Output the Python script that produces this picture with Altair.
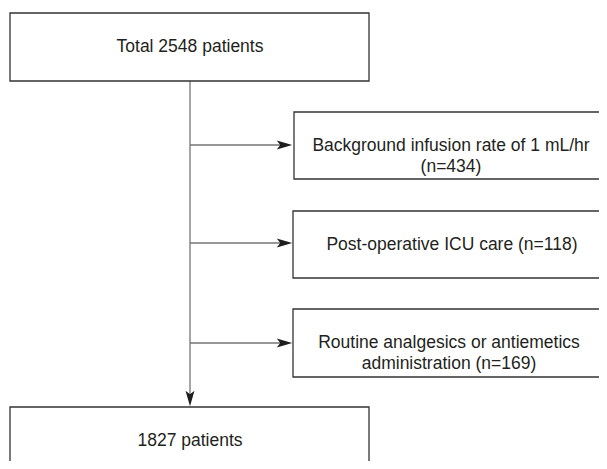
import altair as alt
import pandas as pd

# Box contents and geometry (image pixel coordinates)
box_labels = [
    "Total 2548 patients",
    "Background infusion rate of 1 mL/hr\n(n=434)",
    "Post-operative ICU care (n=118)",
    "Routine analgesics or antiemetics\nadministration (n=169)",
    "1827 patients",
]
box_x1 = [10, 294, 293, 293, 10]
box_x2 = [369, 612, 612, 612, 369]
box_y1 = [13, 112, 211, 309, 407]
box_y2 = [81, 179, 278, 377, 477]
text_x = [190, 451, 452, 449, 190]
text_y = [47, 146, 245, 343, 441]

# Connector lines
line_x1 = [190, 190, 190, 190]
line_x2 = [190, 284, 284, 284]
line_y1 = [81, 145, 243, 343]
line_y2 = [400, 145, 243, 343]

# Arrow heads
arrow_x = [284.5, 284.5, 284.5, 190]
arrow_y = [145, 243, 343, 398.5]
arrow_angle = [0, 0, 0, 90]

boxes = pd.DataFrame({"x1": box_x1, "x2": box_x2, "y1": box_y1, "y2": box_y2,
                      "tx": text_x, "ty": text_y, "label": box_labels})
lines = pd.DataFrame({"x1": line_x1, "x2": line_x2, "y1": line_y1, "y2": line_y2})
arrows = pd.DataFrame({"x": arrow_x, "y": arrow_y, "angle": arrow_angle})

xs = alt.Scale(domain=[8, 599])
ys = alt.Scale(domain=[8, 461], reverse=True)

rects = alt.Chart(boxes).mark_rect(
    fill="white", stroke="#333333", strokeWidth=1.3, clip=True
).encode(
    x=alt.X("x1:Q", scale=xs, axis=None), x2="x2:Q",
    y=alt.Y("y1:Q", scale=ys, axis=None), y2="y2:Q",
)

rules = alt.Chart(lines).mark_rule(color="#757575", strokeWidth=1.3).encode(
    x=alt.X("x1:Q", scale=xs, axis=None), x2="x2:Q",
    y=alt.Y("y1:Q", scale=ys, axis=None), y2="y2:Q",
)

heads = alt.Chart(arrows).mark_point(
    shape="M-1,-0.58 L1,0 L-1,0.58 L-0.55,0 Z",
    filled=True, color="#1e1e1e", opacity=1, size=240, strokeWidth=0,
).encode(
    x=alt.X("x:Q", scale=xs, axis=None),
    y=alt.Y("y:Q", scale=ys, axis=None),
    angle=alt.Angle("angle:Q", scale=None),
)

texts = alt.Chart(boxes).mark_text(
    font="Liberation Sans, Arial, sans-serif", fontSize=17.5, color="#231f20",
    align="center", baseline="middle", lineBreak="\n", lineHeight=21,
).encode(
    x=alt.X("tx:Q", scale=xs, axis=None),
    y=alt.Y("ty:Q", scale=ys, axis=None),
    text="label:N",
)

chart = alt.layer(rules, rects, heads, texts).properties(
    width=591, height=453, padding=0, autosize=alt.AutoSizeParams(type="none"),
    background="white",
).configure_view(stroke=None)

chart.save("out.html", embed_options={"renderer": "svg", "actions": False})
